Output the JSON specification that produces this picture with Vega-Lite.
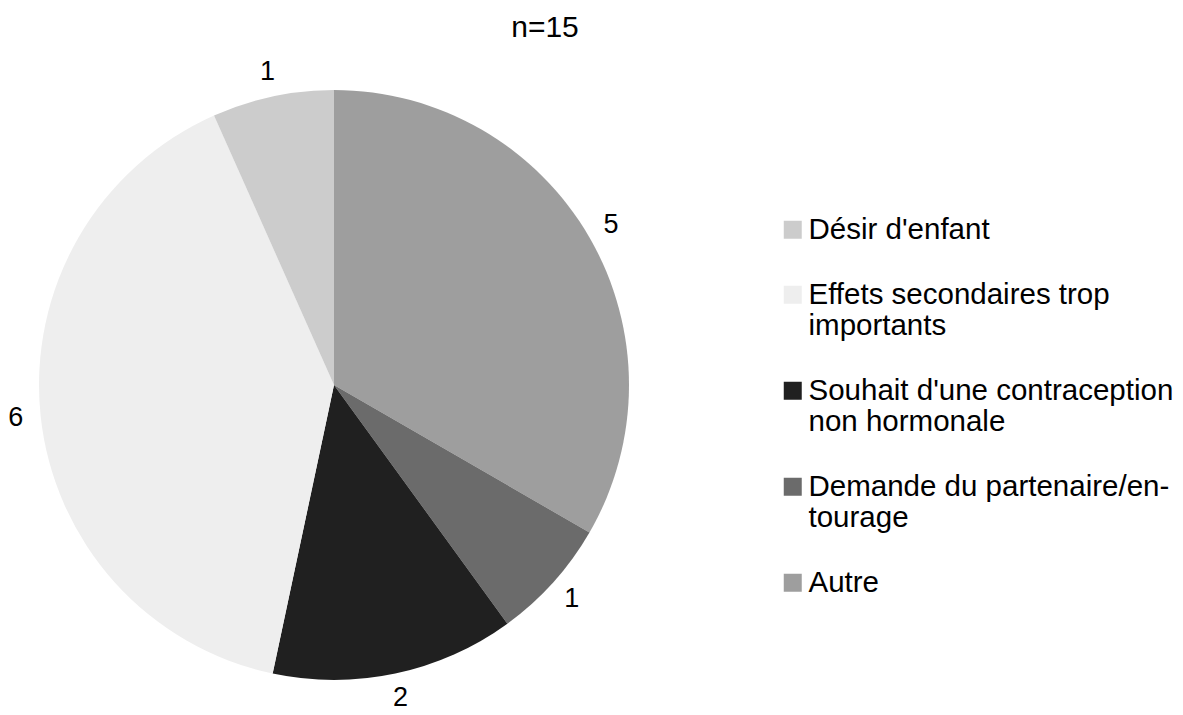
{
  "$schema": "https://vega.github.io/schema/vega-lite/v6.json",
  "width": 668,
  "height": 660,
  "autosize": {"type": "none"},
  "padding": {"left": 0, "top": 55, "right": 515, "bottom": 0},
  "background": "white",
  "title": {"text": "n=15", "frame": "group", "anchor": "middle", "offset": 12, "dx": 211, "fontSize": 30, "font": "Liberation Sans", "fontWeight": "normal", "color": "black"},
  "data": {"values": [
    {"cat": "Autre", "n": 5, "o": 1},
    {"cat": "Demande du partenaire/entourage", "n": 1, "o": 2},
    {"cat": "Souhait d'une contraception non hormonale", "n": 2, "o": 3},
    {"cat": "Effets secondaires trop importants", "n": 6, "o": 4},
    {"cat": "Désir d'enfant", "n": 1, "o": 5}
  ]},
  "encoding": {
    "theta": {"field": "n", "type": "quantitative", "stack": true},
    "order": {"field": "o", "type": "quantitative"}
  },
  "layer": [
    {
      "mark": {"type": "arc", "outerRadius": 295},
      "encoding": {
        "color": {
          "field": "cat",
          "type": "nominal",
          "scale": {
            "domain": ["Désir d'enfant", "Effets secondaires trop importants", "Souhait d'une contraception non hormonale", "Demande du partenaire/entourage", "Autre"],
            "range": ["#cccccc", "#eeeeee", "#202020", "#6b6b6b", "#9e9e9e"]
          },
          "legend": {
            "title": null,
            "orient": "none",
            "legendX": 778,
            "legendY": 160,
            "symbolType": "square",
            "symbolSize": 324,
            "symbolStrokeWidth": 0,
            "labelFont": "Liberation Sans",
            "labelFontSize": 29.5,
            "labelColor": "black",
            "labelLimit": 0,
            "labelOffset": 1,
            "labelBaseline": "top",
            "labelLineHeight": 33,
            "rowPadding": 34,
            "labelExpr": "datum.label == 'Effets secondaires trop importants' ? ['Effets secondaires trop', 'importants'] : datum.label == \"Souhait d'une contraception non hormonale\" ? [\"Souhait d'une contraception\", 'non hormonale'] : datum.label == 'Demande du partenaire/entourage' ? ['Demande du partenaire/en-', 'tourage'] : datum.label",
            "encode": {"labels": {"update": {"dy": {"value": -14}}}}
          }
        }
      }
    },
    {
      "mark": {"type": "text", "radius": 320, "fontSize": 27, "font": "Liberation Sans", "color": "black"},
      "encoding": {"text": {"field": "n", "type": "quantitative"}}
    }
  ],
  "config": {"view": {"stroke": null}}
}
